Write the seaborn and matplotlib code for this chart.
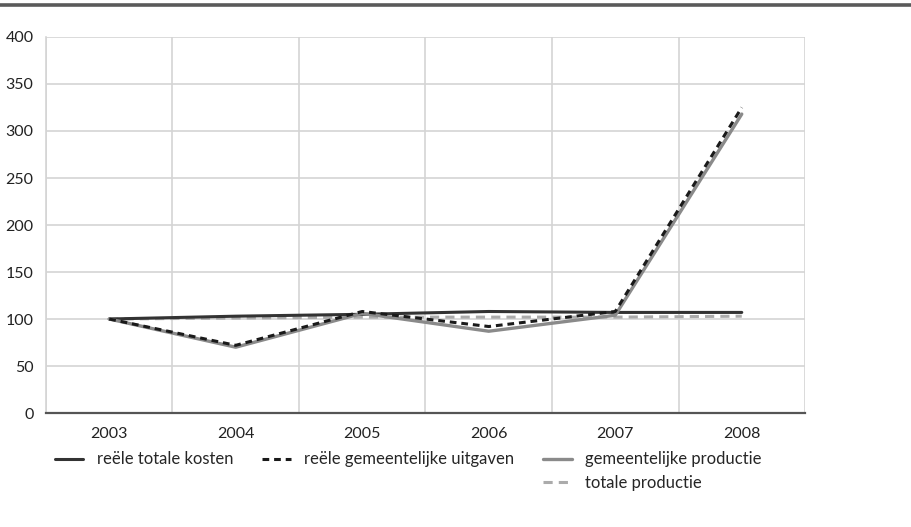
import numpy as np
import pandas as pd
import matplotlib
matplotlib.use("Agg")
import matplotlib.pyplot as plt
from matplotlib.lines import Line2D
from matplotlib.ticker import MultipleLocator, FixedLocator
import seaborn as sns

years = [2003, 2004, 2005, 2006, 2007, 2008]
totale_kosten = [100, 103, 105, 108, 107, 107]
gem_uitgaven = [100, 72, 108, 92, 108, 325]
gem_productie = [100, 70, 106, 87, 104, 318]
totale_productie = [100, 101, 102, 102, 102, 103]

labels = ["reële totale kosten", "reële gemeentelijke uitgaven",
          "gemeentelijke productie", "totale productie"]

sns.set_style("white")
plt.rcParams['font.family'] = ['Lato', 'DejaVu Sans']

fig = plt.figure(figsize=(9.12, 5.27), dpi=100)
ax = fig.add_axes([0.0504, 0.2163, 0.8323, 0.7135])

df = pd.DataFrame({"jaar": years * 4,
                   "waarde": totale_kosten + gem_uitgaven + gem_productie + totale_productie,
                   "reeks": sum([[l] * len(years) for l in labels], [])})

styles = {
    labels[0]: dict(color="#333333", linewidth=2.2, linestyle="-"),
    labels[1]: dict(color="#1a1a1a", linewidth=2.2, linestyle=(0, (2.2, 1.6))),
    labels[2]: dict(color="#8a8a8a", linewidth=2.4, linestyle="-"),
    labels[3]: dict(color="#ababab", linewidth=2.2, linestyle=(0, (3, 2))),
}
order = [labels[3], labels[0], labels[2], labels[1]]
for name in order:
    sub = df[df["reeks"] == name]
    sns.lineplot(data=sub, x="jaar", y="waarde", ax=ax, legend=False, **styles[name])

ax.set_xlim(2002.5, 2008.5)
ax.set_ylim(0, 400)
ax.yaxis.set_major_locator(MultipleLocator(50))
ax.xaxis.set_major_locator(FixedLocator(years))
ax.xaxis.set_minor_locator(FixedLocator([y - 0.5 for y in years] + [2008.5]))
ax.grid(False)
ax.grid(True, which="minor", axis="x", color="#d4d4d4", lw=1.2)
ax.grid(True, which="major", axis="y", color="#d4d4d4", lw=1.2)
ax.set_axisbelow(True)
ax.set_xlabel("")
ax.set_ylabel("")

for s in ["top", "right"]:
    ax.spines[s].set_visible(False)
ax.spines["left"].set_color("#d4d4d4")
ax.spines["left"].set_linewidth(1.2)
ax.spines["bottom"].set_color("#555555")
ax.spines["bottom"].set_linewidth(1.6)

ax.tick_params(axis="x", which="major", direction="out", length=7, width=1.4,
               color="#555555", labelsize=11.5, labelcolor="#222222", pad=3)
ax.tick_params(axis="x", which="minor", length=0)
ax.tick_params(axis="y", length=0, labelsize=11.5, labelcolor="#222222", pad=9)

# legend: row-wise with 'totale productie' under the third column
blank = Line2D([], [], color="none")
h = [Line2D([], [], **styles[n]) for n in labels]
handles = [h[0], blank, h[1], blank, h[2], h[3]]
leg_labels = [labels[0], "", labels[1], "", labels[2], labels[3]]
fig.legend(handles, leg_labels, loc="upper left", bbox_to_anchor=(0.044, 0.172),
           ncol=3, frameon=False, fontsize=12, handlelength=1.7,
           handletextpad=0.8, columnspacing=1.75, labelspacing=0.45)

# top rule
fig.add_artist(Line2D([0, 1], [0.990, 0.990], transform=fig.transFigure,
                      color="#5a5a5a", lw=2.6))

fig.savefig("out.png", dpi=100)
